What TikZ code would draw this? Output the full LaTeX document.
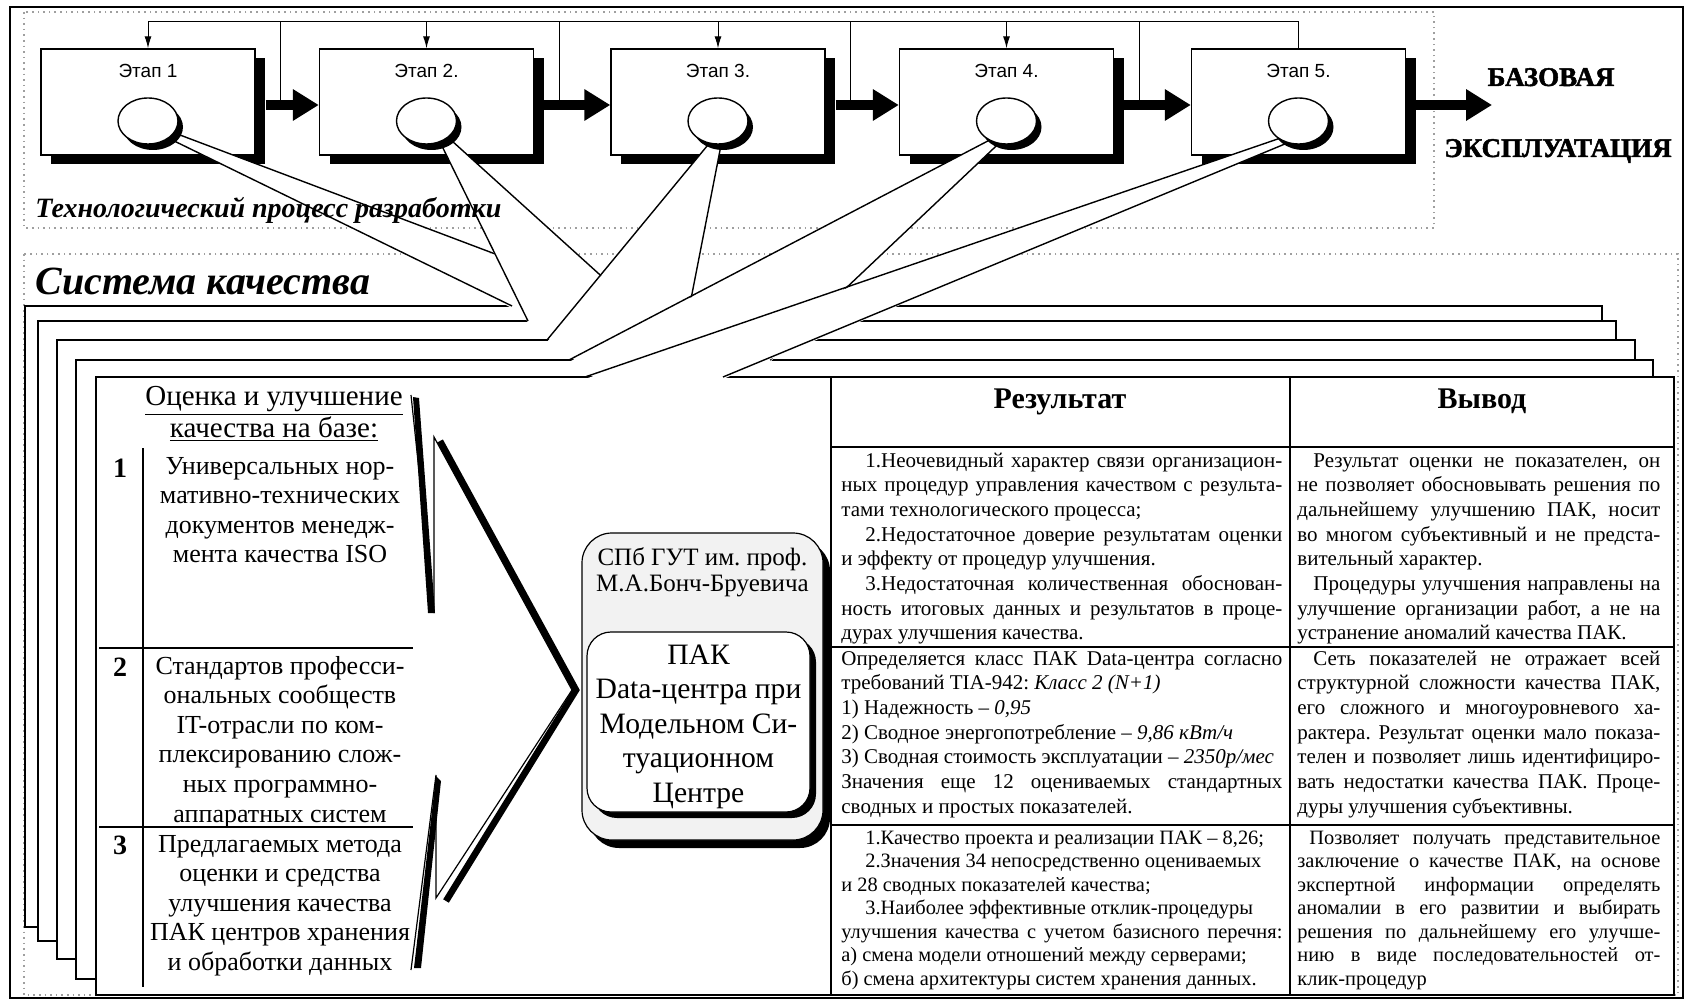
\documentclass[tikz,border=0pt]{standalone}
\usepackage{fontspec}
\setmainfont{Liberation Serif}
\newfontfamily\stagefont{Liberation Sans}
\newfontfamily\heavyfont{Liberation Serif}[BoldFeatures={FakeBold=1.8}]
\usetikzlibrary{calc,shadows,shapes.geometric,arrows.meta}
\frenchspacing

% table cells: one \hbox per printed line, justified or natural width
\newlength{\cellw}
\newcommand{\jline}[1]{\hbox to\cellw{#1}}
\newcommand{\lline}[1]{\hbox{#1}}
\newcommand{\rind}[1][12pt]{\hspace*{#1}}
\newcommand{\cellbox}[4]{\parbox[t]{#1}{\setlength{\cellw}{#1}\fontsize{#2}{#3}\selectfont #4}}
\newcommand{\centerbox}[4]{\parbox[t]{#1}{\centering\fontsize{#2}{#3}\selectfont #4}}
% a white pointer from a stage ring down to one sheet of the quality system
\newcommand{\fanwedge}[1]{%
  \fill[white] (w#1a) -- ($(w#1l)+(0,2)$) -- ($(w#1r)+(0,2)$) -- (w#1b) -- cycle;
  \draw[wedgeside] (w#1a) -- (w#1l) (w#1b) -- (w#1r);}

\begin{document}
\begin{tikzpicture}[x=0.5pt,y=-0.5pt,
  every node/.style={inner sep=0pt},
  frameline/.style={line width=0.6pt},
  dotframe/.style={draw=gray!75, line width=0.8pt, dotted},
  stagebox/.style={draw, line width=0.7pt, fill=white, minimum width=107pt, minimum height=53pt,
      general shadow={fill=black, shadow xshift=5pt, shadow yshift=-4.5pt}},
  stagelabel/.style={font=\stagefont\fontsize{9.5}{10}\selectfont},
  stagering/.style={ellipse, draw, line width=0.7pt, fill=white, minimum width=30pt, minimum height=23pt,
      general shadow={fill=black, shadow xshift=2.5pt, shadow yshift=-3pt}},
  fbline/.style={line width=0.5pt},
  fbarrow/.style={line width=0.5pt, -{Latex[length=6pt,width=3.5pt]}},
  thickarrow/.style={line width=5pt, -{Triangle[length=13pt,width=15pt]}},
  sheet/.style={draw, fill=white, line width=1.3pt},
  wedgeside/.style={line width=0.7pt},
  bolt/.style={line width=0.6pt},
  boltshade/.style={line width=3.3pt},
  tline/.style={line width=0.6pt},
  tcell/.style={anchor=base west},
  ctext/.style={anchor=base},
]
\useasboundingbox (0,0) rectangle (1685,1000);
\fill[white] (0,0) rectangle (1685,1000);

% outer frame and the two dotted areas
\draw[frameline] (10,7) rectangle (1683,998);
\draw[dotframe] (24,12) rectangle (1434,228);
\draw[dotframe] (24,254) rectangle (1678,995);

% development stages
\node[stagebox] (e1) at (148,102) {};
\node[stagebox] (e2) at (426.5,102) {};
\node[stagebox] (e3) at (718,102) {};
\node[stagebox] (e4) at (1006.5,102) {};
\node[stagebox] (e5) at (1298.5,102) {};
\foreach \i/\t in {1/Этап 1, 2/Этап 2., 3/Этап 3., 4/Этап 4., 5/Этап 5.}
  \node[stagelabel] (lab\i) at ($(e\i.north)+(0,23)$) {\t};

% feedback line over the stages
\coordinate (fb) at (0,22);
\draw[fbline] (e1.north |- fb) -- (e5.north |- fb) -- (e5.north);
\foreach \i in {1,2,3,4}
  \draw[fbarrow] (e\i.north |- fb) -- (e\i.north);

% main flow between stages
\foreach \i/\j in {1/2,2/3,3/4,4/5} {
  \coordinate (s\i) at ($(e\i.east)+(10,3)$);
  \coordinate (k\i) at ($(e\i.east)+(25,3)$);
  \draw[fbline] (k\i |- fb) -- (k\i);
  \draw[thickarrow] (s\i) -- (e\j.west |- s\i);
}
\coordinate (s5) at ($(e5.east)+(10,3)$);
\coordinate (exit) at (1492,105);
\draw[thickarrow] (s5) -- (exit);

% ring centres
\foreach \i in {1,...,5} \coordinate (c\i) at ($(e\i.center)+(0,19)$);

% stacked sheets of the quality system, each with its pointer
\draw[sheet] (25,306) rectangle (1602,927);
\coordinate (w1a) at ($(c1)+(18,16)$);    \coordinate (w1b) at ($(c1)+(24,11)$);
\coordinate (w1l) at (512,306);           \coordinate (w1r) at (633,306);
\fanwedge{1}
\draw[sheet] (38,321) rectangle (1616,941);
\coordinate (w2a) at ($(c2)+(12,18)$);    \coordinate (w2b) at ($(c2)+(20,15)$);
\coordinate (w2l) at (528,321);           \coordinate (w2r) at (651,321);
\fanwedge{2}
\draw[sheet] (57,340) rectangle (1635,959);
\coordinate (w3a) at ($(c3)+(-6,19)$);    \coordinate (w3b) at ($(c3)+(4,19)$);
\coordinate (w3l) at (547,340);           \coordinate (w3r) at (683,340);
\fanwedge{3}
\draw[sheet] (76,360) rectangle (1653,979);
\coordinate (w4a) at ($(c4)+(-13,17)$);   \coordinate (w4b) at ($(c4)+(-4,19)$);
\coordinate (w4l) at (569,360);           \coordinate (w4r) at (770,360);
\fanwedge{4}
\draw[sheet] (96,377) rectangle (1674,995);
\coordinate (w5a) at ($(c5)+(-15,16)$);   \coordinate (w5b) at ($(c5)+(-4,19)$);
\coordinate (w5l) at (585,377);           \coordinate (w5r) at (723,377);
\fanwedge{5}

% ---- front sheet: the bases of assessment
\node[ctext] (basehead) at (274,405) {\centerbox{160pt}{14.5}{16}{\underline{Оценка и улучшение}\\\underline{качества на базе:}}};
\draw[tline] (143,448) -- (143,987);
\draw[tline] (99,648) -- (413,648);
\draw[tline] (99,827) -- (413,827);
\node[ctext] (num1) at (120,477) {\fontsize{14}{16}\selectfont\bfseries 1};
\node[ctext] (num2) at (120,676) {\fontsize{14}{16}\selectfont\bfseries 2};
\node[ctext] (num3) at (120,854) {\fontsize{14}{16}\selectfont\bfseries 3};
\node[ctext] (base1) at (280,474) {\centerbox{140pt}{13}{14.8}{Универсальных нор-\\мативно-технических\\документов менедж-\\мента качества ISO}};
\node[ctext] (base2) at (280,674) {\centerbox{140pt}{13}{14.8}{Стандартов професси-\\ональных сообществ\\IT-отрасли по ком-\\плексированию слож-\\ных программно-\\аппаратных систем}};
\node[ctext] (base3) at (280,852) {\centerbox{140pt}{13}{14.8}{Предлагаемых метода\\оценки и средства\\улучшения качества\\ПАК центров хранения\\и обработки данных}};

% lightning pointer towards the data centre
\coordinate (p1) at (411,395); \coordinate (p2) at (434,613);
\coordinate (p3) at (434,437); \coordinate (p4) at (572,690);
\coordinate (p5) at (436,898); \coordinate (p6) at (436,775);
\coordinate (p7) at (411,970);
\fill (413,397) -- (419,398) -- (435,613) -- (428,613) -- cycle;
\fill (436,776) -- (441,781) -- (421,968) -- (414,968) -- cycle;
\draw[boltshade] (440,441) -- (576,690) -- (446,901);
\draw[bolt] (p1) -- (p2) -- (p3) -- (p4) -- (p5) -- (p6) -- (p7);

% data centre
\node[draw, line width=0.6pt, fill=gray!10, rounded corners=15pt, minimum width=120.5pt, minimum height=153.5pt,
      general shadow={fill=black, shadow xshift=3.5pt, shadow yshift=-4pt}] (univ) at (702.5,686.5) {};
\node[draw, line width=0.6pt, fill=white, rounded corners=12pt, minimum width=111.5pt, minimum height=90pt,
      general shadow={fill=black, shadow xshift=3pt, shadow yshift=-3pt}] (pak) at (698.5,722) {};
\node[ctext] (univtext) at (702.5,565) {\centerbox{125pt}{12.5}{13}{СПб ГУТ им. проф.\\М.А.Бонч-Бруевича}};
\node[ctext] (paktext) at (698.5,664) {\centerbox{115pt}{14.8}{17.25}{ПАК\\Data-центра при\\Модельном Си-\\туационном\\Центре}};

% results table
\draw[tline] (831,377) -- (831,995);
\draw[tline] (1290,377) -- (1290,995);
\draw[tline] (831,447) -- (1674,447);
\draw[tline] (831,647) -- (1674,647);
\draw[tline] (831,825) -- (1674,825);
\node[ctext] (hres) at (1060,408) {\fontsize{15}{17}\selectfont\bfseries Результат};
\node[ctext] (hout) at (1482,408) {\fontsize{15}{17}\selectfont\bfseries Вывод};

\node[tcell] (res1) at (841,467) {\cellbox{220.5pt}{10.5}{12.35}{%
\jline{\rind 1.Неочевидный характер связи организацион-}
\jline{ных процедур управления качеством с результа-}
\lline{тами технологического процесса;}
\jline{\rind 2.Недостаточное доверие результатам оценки}
\lline{и эффекту от процедур улучшения.}
\jline{\rind 3.Недостаточная количественная обоснован-}
\jline{ность итоговых данных и результатов в проце-}
\lline{дурах улучшения качества.}}};
\node[tcell] (out1) at (1297,467) {\cellbox{181.5pt}{10.5}{12.35}{%
\jline{\rind[8pt]Результат оценки не показателен, он}
\jline{не позволяет обосновывать решения по}
\jline{дальнейшему улучшению ПАК, носит}
\jline{во многом субъективный и не предста-}
\lline{вительный характер.}
\jline{\rind[8pt]Процедуры улучшения направлены на}
\jline{улучшение организации работ, а не на}
\lline{устранение аномалий качества ПАК.}}};

\node[tcell] (res2) at (841,665) {\cellbox{220.5pt}{10.5}{12.35}{%
\jline{Определяется класс ПАК Data-центра согласно}
\lline{требований TIA-942: \textit{Класс 2 (N+1)}}
\lline{1) Надежность – \textit{0,95}}
\lline{2) Сводное энергопотребление – \textit{9,86 кВт/ч}}
\lline{3) Сводная стоимость эксплуатации – \textit{2350р/мес}}
\jline{Значения еще 12 оцениваемых стандартных}
\lline{сводных и простых показателей.}}};
\node[tcell] (out2) at (1297,665) {\cellbox{181.5pt}{10.5}{12.35}{%
\jline{\rind[8pt]Сеть показателей не отражает всей}
\jline{структурной сложности качества ПАК,}
\jline{его сложного и многоуровневого ха-}
\jline{рактера. Результат оценки мало показа-}
\jline{телен и позволяет лишь идентифициро-}
\jline{вать недостатки качества ПАК. Проце-}
\lline{дуры улучшения субъективны.}}};

\node[tcell] (res3) at (841,844) {\cellbox{220.5pt}{10.2}{11.75}{%
\lline{\rind 1.Качество проекта и реализации ПАК – 8,26;}
\lline{\rind 2.Значения 34 непосредственно оцениваемых}
\lline{и 28 сводных показателей качества;}
\lline{\rind 3.Наиболее эффективные отклик-процедуры}
\jline{улучшения качества с учетом базисного перечня:}
\lline{а) смена модели отношений между серверами;}
\lline{б) смена архитектуры систем хранения данных.}}};
\node[tcell] (out3) at (1297,844) {\cellbox{181.5pt}{10.2}{11.75}{%
\jline{\rind[6pt]Позволяет получать представительное}
\jline{заключение о качестве ПАК, на основе}
\jline{экспертной информации определять}
\jline{аномалии в его развитии и выбирать}
\jline{решения по дальнейшему его улучше-}
\jline{нию в виде последовательностей от-}
\lline{клик-процедур}}};

% stage rings, drawn over the pointers
\foreach \i in {1,...,5} \node[stagering] (ring\i) at (c\i) {};

% titles
\node[anchor=base west] (techtitle) at (35,218) {\fontsize{14}{16}\selectfont\bfseries\itshape Технологический процесс разработки};
\node[anchor=base west] (systitle) at (35,294) {\fontsize{20}{22}\selectfont\bfseries\itshape Система качества};
\node[ctext] (opword1) at (1551,86) {\heavyfont\bfseries\fontsize{13.5}{15}\selectfont БАЗОВАЯ};
\node[ctext] (opword2) at (1558,157) {\heavyfont\bfseries\fontsize{13.5}{15}\selectfont ЭКСПЛУАТАЦИЯ};
\end{tikzpicture}
\end{document}
